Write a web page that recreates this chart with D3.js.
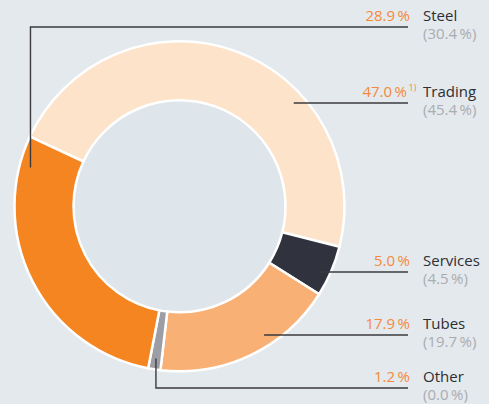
<!DOCTYPE html>
<html><head><meta charset="utf-8">
<script src="https://cdn.jsdelivr.net/npm/d3@7"></script>
<style>
html,body{margin:0;padding:0;background:#e3e9ed;}
svg{display:block;}
text{font-family:"Open Sans","Noto Sans",sans-serif;}
</style></head>
<body>
<svg id="c" width="489" height="404"></svg>
<script>
// Data (clockwise order starting with Trading)
const categories = ["Trading", "Services", "Tubes", "Other", "Steel"];
const shares = [47.0, 5.0, 17.9, 1.2, 28.9];
const priorShares = [45.4, 4.5, 19.7, 0.0, 30.4];
const shareLabels = ["47.0\u2009%", "5.0\u2009%", "17.9\u2009%", "1.2\u2009%", "28.9\u2009%"];
const priorLabels = ["(45.4\u2009%)", "(4.5\u2009%)", "(19.7\u2009%)", "(0.0\u2009%)", "(30.4\u2009%)"];
const footnotes = ["1)", "", "", "", ""];
const colors = ["#fde3c9", "#30323e", "#f9b074", "#9c9da5", "#f58520"];

const svg = d3.select("#c");
const cx = 179.5, cy = 206.3, R = 165, r = 106;
const startDeg = -65;

const pie = d3.pie().sort(null).value(d => d.v)
  .startAngle(startDeg * Math.PI / 180)
  .endAngle(startDeg * Math.PI / 180 + 2 * Math.PI);
const data = categories.map((c, i) => ({c, v: shares[i], p: priorShares[i], i}));
const arcs = pie(data);
const arc = d3.arc().innerRadius(r).outerRadius(R);

const g = svg.append("g").attr("transform", `translate(${cx},${cy})`);
g.append("circle").attr("r", r).attr("fill", "#dee5eb");
g.selectAll("path").data(arcs).join("path")
  .attr("d", arc)
  .attr("fill", d => colors[d.data.i])
  .attr("stroke", "#fff").attr("stroke-width", 2.5).attr("stroke-linejoin", "miter");

// Label rows: y of leader line for each category
const lineY = {Steel: 27, Trading: 103, Services: 272, Tubes: 335, Other: 388};
const lineEnd = 408;
const leaderR = 154;
const stroke = "#3a3a3e";

arcs.forEach(a => {
  const c = a.data.c, y = lineY[c];
  let path;
  if (c === "Steel" || c === "Other") {
    // anchor inside the slice at a given fraction
    const frac = c === "Steel" ? 0.9 : 0.5;
    const ang = a.startAngle + (a.endAngle - a.startAngle) * frac;
    const px = cx + leaderR * Math.sin(ang), py = cy - leaderR * Math.cos(ang);
    path = `M${px},${py}V${y}H${lineEnd}`;
  } else {
    const dy = y - cy;
    const px = cx + Math.sqrt(leaderR * leaderR - dy * dy);
    path = `M${px},${y}H${lineEnd}`;
  }
  svg.append("path").attr("d", path).attr("fill", "none")
    .attr("stroke", stroke).attr("stroke-width", 1.4);

  const base = y - 6;
  const idx = a.data.i;
  const hasFn = footnotes[idx] !== "";
  svg.append("text").attr("x", hasFn ? 407 : 410).attr("y", base)
    .attr("text-anchor", "end").attr("font-size", 15).attr("fill", "#f5893b")
    .text(shareLabels[idx]);
  if (hasFn) {
    svg.append("text").attr("x", 408.5).attr("y", base - 6)
      .attr("font-size", 9).attr("fill", "#f5893b").text(footnotes[idx]);
  }
  svg.append("text").attr("x", 423).attr("y", base)
    .attr("font-size", 15).attr("fill", "#2e2e33").text(c);
  svg.append("text").attr("x", 423).attr("y", base + 17.5)
    .attr("font-size", 15).attr("fill", "#abacb1").text(priorLabels[idx]);
});
</script>
</body></html>
